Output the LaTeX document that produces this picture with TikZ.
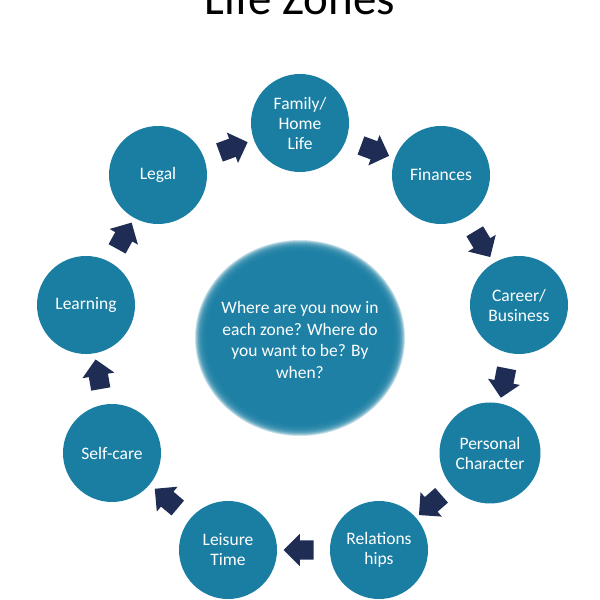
\documentclass[tikz,border=0pt]{standalone}
\usepackage{fontspec}
\setmainfont{Carlito}
\usepackage{xcolor}
\usepackage{tikz}
\usetikzlibrary{shapes.arrows}
\definecolor{zonefill}{HTML}{1A7EA3}
\definecolor{navy}{HTML}{1F2D55}
\tikzset{
  zone/.style={circle, fill=zonefill, minimum size=98pt, inner sep=0pt,
    text=white, align=center, font=\fontsize{17.5}{20}\selectfont},
  hub/.style={inner sep=0pt, text=white, align=center, font=\fontsize{17.5}{21.5}\selectfont},
  halo/.style={fill=zonefill, opacity=0.22},
  flow/.style={single arrow, fill=navy, inner xsep=0pt, inner ysep=9.5pt,
    minimum height=30pt, single arrow head extend=6.5pt, allow upside down},
  ttl/.style={anchor=base, font=\fontsize{47}{56}\selectfont}
}

\begin{document}
\begin{tikzpicture}[x=1pt,y=1pt]
\useasboundingbox (0,0) rectangle (600,600);
\clip (0,0) rectangle (600,600);

\node[ttl] (title) at (300,585) {Life Zones};

\coordinate (mid) at (300,262);
\foreach \k in {1,...,16}
  \fill[halo] (mid) ellipse ({93+0.75*\k} and {86+0.75*\k});
\node[hub] (hub) at (300,260) {Where are you now in\\each zone? Where do\\you want to be? By\\when?};

\node[zone] (fam) at (300,477) {Family/\\Home\\Life};
\node[zone] (fin) at (441,425) {Finances};
\node[zone] (car) at (519,295) {Career/\\Business};
\node[zone, minimum size=101pt] (per) at (490,147) {Personal\\Character};
\node[zone] (rel) at (379,50) {Relations\\hips};
\node[zone] (lei) at (228,50) {Leisure\\Time};
\node[zone] (sel) at (112,147) {Self-care};
\node[zone] (lea) at (86,295) {Learning};
\node[zone] (leg) at (158,425) {Legal};

\path (leg) -- node[flow, sloped] {} (fam);
\path (fam) -- node[flow, sloped] {} (fin);
\path (fin) -- node[flow, sloped] {} (car);
\path (car) -- node[flow, sloped] {} (per);
\path (per) -- node[flow, sloped] {} (rel);
\path (rel) -- node[flow, sloped] {} (lei);
\path (lei) -- node[flow, sloped] {} (sel);
\path (sel) -- node[flow, sloped] {} (lea);
\path (lea) -- node[flow, sloped] {} (leg);
\end{tikzpicture}
\end{document}
